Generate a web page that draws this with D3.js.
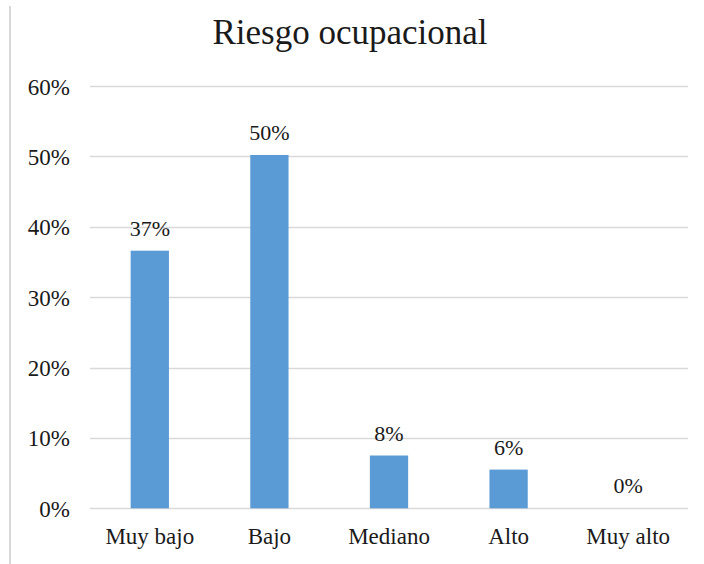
<!DOCTYPE html>
<html>
<head>
<meta charset="utf-8">
<script src="https://cdn.jsdelivr.net/npm/d3@7"></script>
<style>
  html, body { margin: 0; padding: 0; background: #fff; }
  svg { display: block; }
  svg text { font-family: "Liberation Serif", "Times New Roman", Tinos, "DejaVu Serif", serif; }
</style>
</head>
<body>
<svg id="chart" width="704" height="564"></svg>
<script>
const title = "Riesgo ocupacional";
const categories = ["Muy bajo", "Bajo", "Mediano", "Alto", "Muy alto"];
const values = [0.366, 0.502, 0.075, 0.055, 0.0];
const valueLabels = ["37%", "50%", "8%", "6%", "0%"];
const yTicks = [0, 0.1, 0.2, 0.3, 0.4, 0.5, 0.6];

const svg = d3.select("#chart");
const textColor = "#1a1a1a";

// left border line of the chart area
svg.append("line")
  .attr("x1", 10).attr("x2", 10).attr("y1", 6).attr("y2", 564)
  .attr("stroke", "#d9d9d9").attr("stroke-width", 2);

const x = d3.scaleBand().domain(categories).range([90, 688]).paddingInner(0.68).paddingOuter(0.34);
const y = d3.scaleLinear().domain([0, 0.6]).range([508.3, 86]);

// gridlines
svg.append("g").selectAll("line").data(yTicks).join("line")
  .attr("x1", 90).attr("x2", 688)
  .attr("y1", d => Math.round(y(d)) + 0.5).attr("y2", d => Math.round(y(d)) + 0.5)
  .attr("stroke", "#d9d9d9").attr("stroke-width", 1.3);

// y axis labels
const yAxis = d3.axisLeft(y).tickValues(yTicks).tickFormat(d3.format(".0%")).tickSize(0).tickPadding(0);
const yg = svg.append("g").attr("transform", "translate(70,0)").call(yAxis);
yg.attr("font-family", null);
yg.select(".domain").remove();
yg.selectAll("text").attr("font-size", 23).attr("fill", textColor).attr("dy", "0.35em");

// x axis labels
const xAxis = d3.axisBottom(x).tickSize(0).tickPadding(0);
const xg = svg.append("g").attr("transform", "translate(0,528)").call(xAxis);
xg.attr("font-family", null);
xg.select(".domain").remove();
xg.selectAll("text").attr("font-size", 23).attr("fill", textColor).attr("dy", "0.71em");

// bars
svg.append("g").selectAll("rect").data(values).join("rect")
  .attr("x", (d, i) => x(categories[i]))
  .attr("width", x.bandwidth())
  .attr("y", d => y(d))
  .attr("height", d => y(0) - y(d))
  .attr("fill", "#5b9bd5");

// value labels
svg.append("g").selectAll("text").data(values).join("text")
  .attr("x", (d, i) => x(categories[i]) + x.bandwidth() / 2)
  .attr("y", d => y(d) - 15)
  .attr("text-anchor", "middle")
  .attr("font-size", 22).attr("fill", textColor)
  .text((d, i) => valueLabels[i]);

// title
svg.append("text")
  .attr("x", 350).attr("y", 44)
  .attr("text-anchor", "middle")
  .attr("font-size", 35).attr("fill", textColor)
  .text(title);
</script>
</body>
</html>
